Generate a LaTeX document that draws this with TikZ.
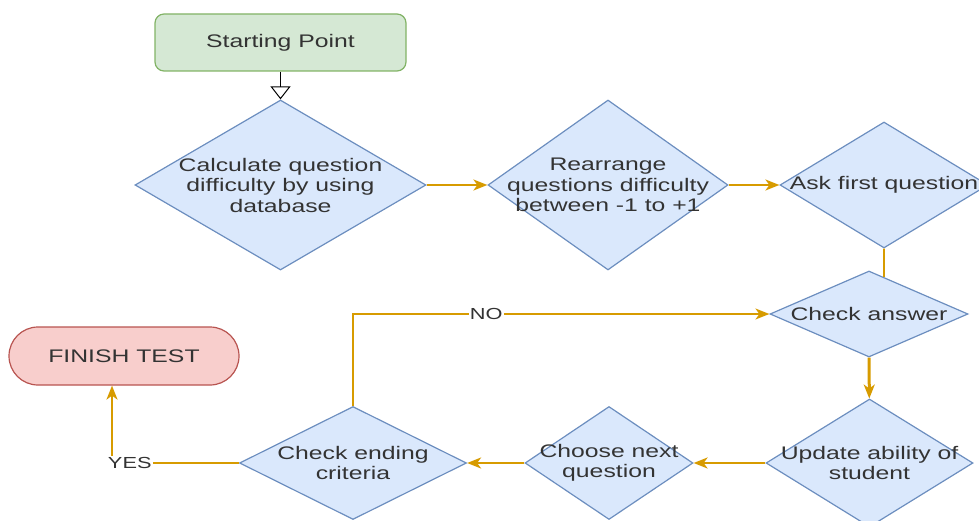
\documentclass[tikz,border=0pt]{standalone}
\usepackage{fontspec}
\setmainfont{Liberation Sans}[FakeStretch=1.36]
\usepackage{tikz}
\usetikzlibrary{
  shapes.geometric,
  arrows.meta,
  calc}

\definecolor{ink}{HTML}{333333}
\definecolor{blueFill}{HTML}{DAE8FC}
\definecolor{blueLine}{HTML}{6C8EBF}
\definecolor{greenFill}{HTML}{D5E8D4}
\definecolor{greenLine}{HTML}{82B366}
\definecolor{redFill}{HTML}{F8CECC}
\definecolor{redLine}{HTML}{B85450}
\definecolor{flowOrange}{HTML}{D79B00}

\tikzset{
  txt/.style={align=center, text=ink, inner sep=0pt,
    font=\fontsize{18.2}{20.5}\selectfont},
  decide/.style={diamond, draw=blueLine, fill=blueFill, line width=1.2pt,
    inner sep=0pt},
  terminal/.style={rectangle, line width=1.2pt, inner sep=0pt},
  flow/.style={draw=flowOrange, line width=1.8pt,
    -{Stealth[length=14pt, width=11pt, inset=4pt]}},
  tag/.style={fill=white, text=ink, inner sep=1pt,
    font=\fontsize{16}{18}\selectfont}
}

\begin{document}
\begin{tikzpicture}[x=1pt, y=-1pt]
\useasboundingbox (0,0) rectangle (979,521);

% end points
\node[terminal, draw=greenLine, fill=greenFill, rounded corners=9pt,
  minimum width=251pt, minimum height=57pt, txt] (start) at (280.5,42.5) {Starting Point};
\node[terminal, draw=redLine, fill=redFill, rounded corners=29pt,
  minimum width=230pt, minimum height=58pt, txt] (finish) at (124,356) {FINISH TEST};

% decisions
\node[decide, minimum width=291pt, minimum height=170pt,
  label={[txt]center:{Calculate question\\difficulty by using\\database}}] (calc) at (280.5,185) {};
\node[decide, minimum width=240pt, minimum height=170pt,
  label={[txt]center:{Rearrange\\questions difficulty\\between -1 to +1}}] (order) at (608,185) {};
\node[decide, minimum width=208pt, minimum height=126pt,
  label={[txt]center:{Ask first question}}] (ask) at (884,185) {};
\node[decide, minimum width=198pt, minimum height=86pt,
  label={[txt]center:{Check answer}}] (check) at (869,314) {};
\node[decide, minimum width=207pt, minimum height=128pt,
  label={[txt]center:{Update ability of\\student}}] (update) at (869.5,463) {};
\node[decide, minimum width=168pt, minimum height=113pt,
  label={[txt]center:{Choose next\\question}}] (next) at (609,463) {};
\node[decide, minimum width=227pt, minimum height=113pt,
  label={[txt]center:{Check ending\\criteria}}] (ending) at (353,463) {};

% connectors
\draw[black, line width=1pt, -{Triangle[open, length=13pt, width=20pt]}] (start) -- (calc);
\draw[flow] (calc) -- (order);
\draw[flow] (order) -- (ask);
\draw[draw=flowOrange, line width=1.8pt] (ask.south) -- ($(check.north)!0.15!(check.east)$);
\draw[flow, line width=3pt] (check) -- (update);
\draw[flow] (update) -- (next);
\draw[flow] (next) -- (ending);
\draw[flow] (ending.north) |- node[tag, pos=0.66] {NO} (check.west);
\draw[flow] (ending.west) -| node[tag, pos=0.43] {YES} ([xshift=-12pt]finish.south);
\end{tikzpicture}
\end{document}
